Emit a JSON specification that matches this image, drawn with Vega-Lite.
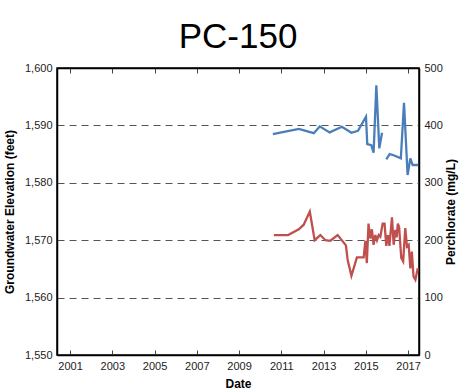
{
  "$schema": "https://vega.github.io/schema/vega-lite/v6.json",
  "autosize": {"type": "none"},
  "width": 362,
  "height": 287,
  "padding": {"left": 57, "top": 68, "right": 40, "bottom": 37},
  "background": "white",
  "title": {"text": "PC-150", "fontSize": 35, "font": "Liberation Sans", "fontWeight": "normal", "color": "#000", "anchor": "middle", "offset": 7},
  "config": {
    "view": {"stroke": "#000", "strokeWidth": 1.5},
    "axis": {"labelFont": "Liberation Sans", "titleFont": "Liberation Sans", "labelFontSize": 11, "labelColor": "#222", "titleFontSize": 12, "titleFontWeight": "bold", "titleColor": "#000", "domainColor": "#000", "domainWidth": 1.5, "tickColor": "#444"}
  },
  "datasets": {
    "elev": [
      {"year": 2010.6, "elev": 1588.5, "seg": 1},
      {"year": 2011.83, "elev": 1589.4, "seg": 1},
      {"year": 2012.54, "elev": 1588.65, "seg": 1},
      {"year": 2012.82, "elev": 1589.83, "seg": 1},
      {"year": 2013.29, "elev": 1588.78, "seg": 1},
      {"year": 2013.87, "elev": 1589.76, "seg": 1},
      {"year": 2014.32, "elev": 1588.72, "seg": 1},
      {"year": 2014.63, "elev": 1589.07, "seg": 1},
      {"year": 2015.01, "elev": 1591.5, "seg": 1},
      {"year": 2015.07, "elev": 1586.75, "seg": 1},
      {"year": 2015.26, "elev": 1586.57, "seg": 1},
      {"year": 2015.37, "elev": 1585.24, "seg": 1},
      {"year": 2015.5, "elev": 1597.0, "seg": 1},
      {"year": 2015.64, "elev": 1586.0, "seg": 1},
      {"year": 2015.77, "elev": 1588.72, "seg": 1},
      {"year": 2015.97, "elev": 1584.1, "seg": 2},
      {"year": 2016.13, "elev": 1585.0, "seg": 2},
      {"year": 2016.32, "elev": 1584.8, "seg": 2},
      {"year": 2016.66, "elev": 1584.26, "seg": 2},
      {"year": 2016.81, "elev": 1593.93, "seg": 2},
      {"year": 2016.98, "elev": 1581.36, "seg": 2},
      {"year": 2017.11, "elev": 1584.26, "seg": 2},
      {"year": 2017.22, "elev": 1583.1, "seg": 2},
      {"year": 2017.47, "elev": 1583.1, "seg": 2}
    ],
    "perc": [
      {"year": 2010.65, "perc": 209},
      {"year": 2011.32, "perc": 209},
      {"year": 2011.83, "perc": 219},
      {"year": 2012.06, "perc": 227},
      {"year": 2012.35, "perc": 250},
      {"year": 2012.58, "perc": 200},
      {"year": 2012.85, "perc": 209},
      {"year": 2013.09, "perc": 200},
      {"year": 2013.32, "perc": 199},
      {"year": 2013.67, "perc": 209},
      {"year": 2014.06, "perc": 191},
      {"year": 2014.14, "perc": 166},
      {"year": 2014.32, "perc": 138},
      {"year": 2014.58, "perc": 170},
      {"year": 2014.9, "perc": 170},
      {"year": 2014.98, "perc": 199},
      {"year": 2015.05, "perc": 160},
      {"year": 2015.13, "perc": 229},
      {"year": 2015.21, "perc": 203},
      {"year": 2015.29, "perc": 219},
      {"year": 2015.37, "perc": 192},
      {"year": 2015.45, "perc": 209},
      {"year": 2015.53, "perc": 200},
      {"year": 2015.61, "perc": 209},
      {"year": 2015.69, "perc": 206},
      {"year": 2015.8, "perc": 229},
      {"year": 2015.89, "perc": 229},
      {"year": 2015.97, "perc": 190},
      {"year": 2016.05, "perc": 209},
      {"year": 2016.12, "perc": 190},
      {"year": 2016.24, "perc": 240},
      {"year": 2016.32, "perc": 192},
      {"year": 2016.4, "perc": 218},
      {"year": 2016.46, "perc": 205},
      {"year": 2016.52, "perc": 229},
      {"year": 2016.58, "perc": 222},
      {"year": 2016.68, "perc": 169},
      {"year": 2016.77, "perc": 163},
      {"year": 2016.87, "perc": 221},
      {"year": 2016.95, "perc": 189},
      {"year": 2017.03, "perc": 192},
      {"year": 2017.11, "perc": 151},
      {"year": 2017.18, "perc": 180},
      {"year": 2017.26, "perc": 137},
      {"year": 2017.35, "perc": 131},
      {"year": 2017.46, "perc": 151}
    ]
  },
  "layer": [
    {
      "data": {"name": "elev"},
      "mark": {"type": "line", "color": "#4a7ebb", "strokeWidth": 2.3},
      "encoding": {
        "x": {"field": "year", "type": "quantitative", "scale": {"domain": [2000.38, 2017.52], "nice": false, "zero": false},
              "axis": {"title": "Date", "orient": "bottom", "values": [2001, 2003, 2005, 2007, 2009, 2011, 2013, 2015, 2017], "format": "d", "grid": false, "tickSize": -5, "labelPadding": 10, "titlePadding": 7}},
        "y": {"field": "elev", "type": "quantitative", "scale": {"domain": [1550, 1600], "nice": false, "zero": false},
              "axis": {"title": "Groundwater Elevation (feet)", "values": [1550, 1560, 1570, 1580, 1590, 1600], "format": ",d", "ticks": false, "labelPadding": 5, "grid": true, "gridColor": "#555", "gridDash": [7, 5], "gridWidth": 1, "titlePadding": 8}},
        "detail": {"field": "seg", "type": "nominal"}
      }
    },
    {
      "data": {"name": "perc"},
      "mark": {"type": "line", "color": "#c0504d", "strokeWidth": 2.3},
      "encoding": {
        "x": {"field": "year", "type": "quantitative",
              "axis": {"orient": "top", "title": null, "labels": false, "values": [2001, 2003, 2005, 2007, 2009, 2011, 2013, 2015, 2017], "grid": false, "tickSize": -5}},
        "y": {"field": "perc", "type": "quantitative", "scale": {"domain": [0, 500], "nice": false},
              "axis": {"title": "Perchlorate (mg/L)", "titleAngle": 270, "titleBaseline": "top", "orient": "right", "values": [0, 100, 200, 300, 400, 500], "ticks": false, "labelPadding": 5, "grid": false, "titlePadding": 3}}
      }
    }
  ],
  "resolve": {"scale": {"y": "independent"}, "axis": {"x": "independent"}}
}
